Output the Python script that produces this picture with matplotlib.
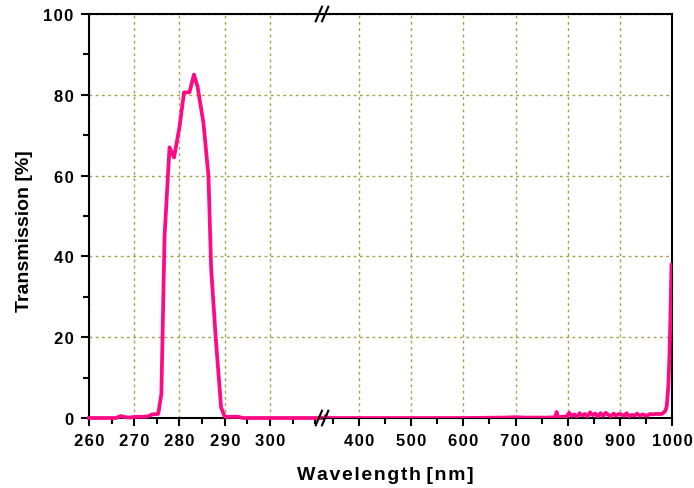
import matplotlib
matplotlib.use("Agg")
import matplotlib.pyplot as plt
from matplotlib.ticker import MultipleLocator

plt.rcParams['font.family'] = ['Liberation Sans', 'DejaVu Sans']
plt.rcParams['font.weight'] = 'bold'

# UV segment (left part of broken axis)
wl_uv = [260, 266, 267, 268, 269, 270, 272, 273, 274, 275.3, 276.0, 276.7, 277.8, 278.8, 280.0,
         281.0, 282.2, 283.2, 284.0, 285.3, 286.4, 287.0, 288.0, 289.2, 290.0, 293.0, 294.0, 311.5]
tr_uv = [0, 0, 0.5, 0.2, 0.1, 0.3, 0.3, 0.4, 0.9, 1.0, 6.0, 45.0, 67.0, 64.5, 72.0,
         80.6, 80.6, 85.0, 82.0, 73.0, 60.0, 37.0, 20.0, 2.6, 0.3, 0.3, 0.0, 0.0]

# VIS/NIR segment (right part of broken axis)
wl_vis = [329, 334, 336, 338, 345, 400, 500, 600, 680, 700, 720, 760, 776, 779, 781, 790,
          798, 803, 808, 813, 818, 823, 828, 833, 838, 843, 848, 853, 858, 863, 868,
          873, 878, 883, 888, 893, 898, 903, 908, 913, 918, 923, 928, 933, 938, 943,
          948, 953, 958, 962, 970, 980, 985, 988, 990, 993, 995, 997, 999, 1000]
tr_vis = [0, 0, 0.5, 0.1, 0, 0, 0, 0, 0.1, 0.2, 0.1, 0.1, 0.2, 1.5, 0.2, 0.3,
          0.4, 1.3, 0.5, 0.9, 0.3, 1.2, 0.6, 1.0, 0.4, 1.4, 0.7, 1.1, 0.3, 1.2, 0.5,
          1.3, 0.8, 0.4, 1.1, 0.6, 1.0, 0.9, 0.5, 1.2, 0.4, 0.8, 0.6, 1.1, 0.5, 0.9,
          0.7, 0.6, 1.0, 0.9, 1.0, 1.0, 1.4, 2.0, 3.0, 8.0, 15.0, 25.0, 38.0, 38.0]

uv_ticks = [260, 270, 280, 290, 300]
vis_ticks = [400, 500, 600, 700, 800, 900, 1000]
y_ticks = [0, 20, 40, 60, 80, 100]

LINE = '#ff0a84'
GRID = '#a3a34a'
HS = '\u200a'


def spaced(s):
    return HS.join(str(s))


fig = plt.figure(figsize=(6.94, 4.89), dpi=100)
W, H = 694, 489
x0, xb, x1 = 89, 322, 672
yb, yt = 419, 15
axL = fig.add_axes([x0 / W, 1 - yb / H, (xb - x0) / W, (yb - yt) / H])
axR = fig.add_axes([xb / W, 1 - yb / H, (x1 - xb) / W, (yb - yt) / H], sharey=axL)

for ax in (axL, axR):
    ax.set_ylim(0, 100)
    for s in ax.spines.values():
        s.set_linewidth(1.5)
    ax.grid(True, which='major', color=GRID, linestyle=(0, (2, 2.5)), linewidth=1.0)
    ax.tick_params(axis='x', which='major', direction='out', length=6, width=1.5,
                   labelsize=12, pad=5)
    ax.tick_params(axis='x', which='minor', direction='out', length=4, width=1.5)

axL.set_xlim(260, 311.5)
axL.set_xticks(uv_ticks)
axL.set_xticklabels([spaced(t) for t in uv_ticks], fontweight='bold')
axL.xaxis.set_minor_locator(MultipleLocator(5))
axL.spines['right'].set_visible(False)
axL.plot(wl_uv, tr_uv, color=LINE, lw=2.7, clip_on=False, zorder=5)
axL.set_yticks(y_ticks)
axL.set_yticklabels([spaced(t) for t in y_ticks], fontweight='bold')
axL.yaxis.set_minor_locator(MultipleLocator(10))
axL.tick_params(axis='y', which='major', direction='out', length=6, width=1.5, labelsize=12, pad=5)
axL.tick_params(axis='y', which='minor', direction='out', length=4, width=1.5)

axR.set_xlim(329, 1000)
axR.set_xticks(vis_ticks)
axR.set_xticklabels([spaced(t) for t in vis_ticks], fontweight='bold')
axR.xaxis.set_minor_locator(MultipleLocator(50))
axR.spines['left'].set_visible(False)
axR.tick_params(axis='y', which='both', left=False, labelleft=False)
axR.plot(wl_vis, tr_vis, color=LINE, lw=2.7, clip_on=True, zorder=5)

# break marks
for yy in (0, 1):
    for dx in (-0.012, 0.006):
        axR.plot([dx - 0.006, dx + 0.012], [yy - 0.018, yy + 0.018], transform=axR.transAxes,
                 color='black', lw=1.5, clip_on=False, zorder=10)

fig.text(385 / W, 1 - 476 / H, HS.join('Wavelength') + ' ' + HS.join('[nm]'),
         ha='center', va='center', fontsize=14, fontweight='bold')
fig.text(25 / W, 1 - 231 / H, 'Transmission [%]', ha='center', va='center',
         rotation=90, fontsize=14, fontweight='bold')

fig.savefig('out.png', dpi=100)
